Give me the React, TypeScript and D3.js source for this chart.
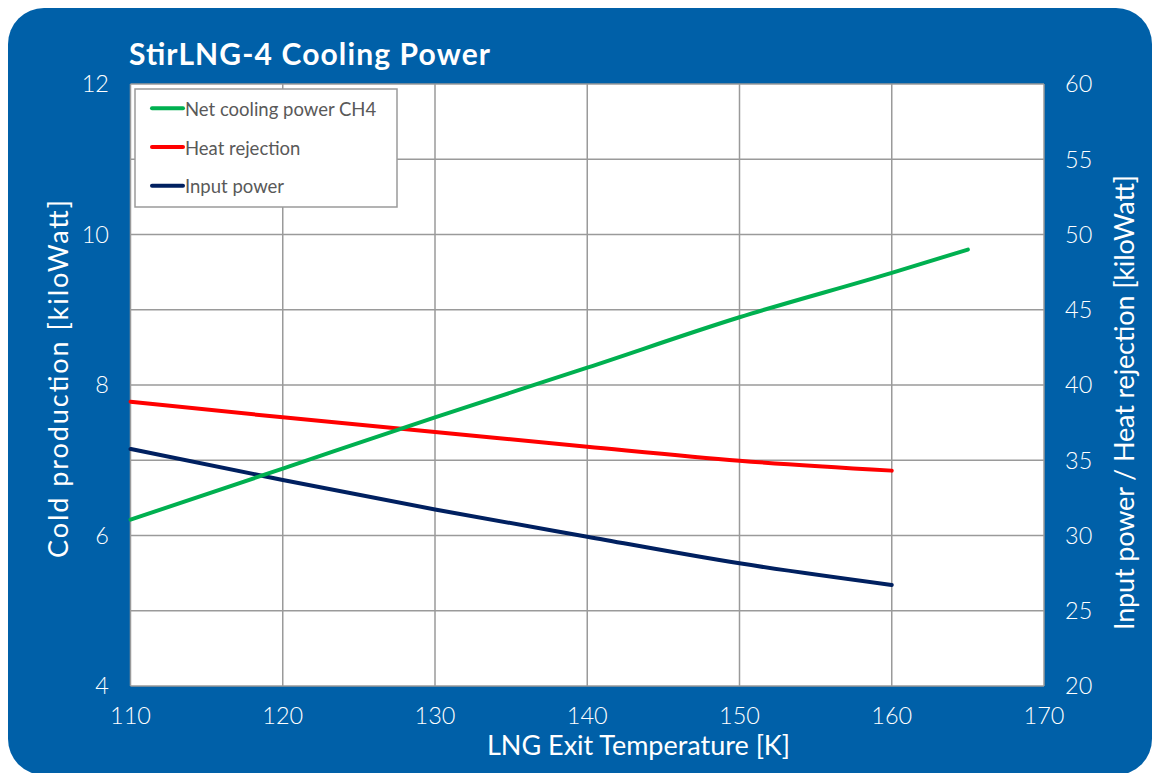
import React from "react";
import * as d3 from "d3";

const temps = [110, 120, 130, 140, 150, 160];
const greenTemps = [110, 120, 130, 140, 150, 160, 165];
const netCooling = [6.21, 6.89, 7.57, 8.23, 8.9, 9.49, 9.8];
const heatRejection = [38.89, 37.85, 36.88, 35.9, 34.97, 34.31];
const inputPower = [35.75, 33.69, 31.73, 29.92, 28.15, 26.71];

const xTicks = [110, 120, 130, 140, 150, 160, 170];
const leftTicks = [4, 6, 8, 10, 12];
const rightTicks = [20, 25, 30, 35, 40, 45, 50, 55, 60];

const legendItems = [
  { label: "Net cooling power CH4", color: "#00B050" },
  { label: "Heat rejection", color: "#FF0000" },
  { label: "Input power", color: "#002060" },
];

const W = 1152;
const H = 773;
const FONT = "Lato, 'Open Sans', sans-serif";

export default function App() {
  const plot = { left: 130.5, right: 1044, top: 84, bottom: 686 };
  const x = d3.scaleLinear().domain([110, 170]).range([plot.left, plot.right]);
  const yL = d3.scaleLinear().domain([4, 12]).range([plot.bottom, plot.top]);
  const yR = d3.scaleLinear().domain([20, 60]).range([plot.bottom, plot.top]);

  const lineL = d3
    .line<[number, number]>()
    .x((d) => x(d[0]))
    .y((d) => yL(d[1]))
    .curve(d3.curveMonotoneX);
  const lineR = d3
    .line<[number, number]>()
    .x((d) => x(d[0]))
    .y((d) => yR(d[1]))
    .curve(d3.curveMonotoneX);

  const green = lineL(greenTemps.map((t, i) => [t, netCooling[i]] as [number, number]));
  const red = lineR(temps.map((t, i) => [t, heatRejection[i]] as [number, number]));
  const navy = lineR(temps.map((t, i) => [t, inputPower[i]] as [number, number]));

  const grid = "#9a9a9a";

  return (
    <svg
      width={W}
      height={H}
      style={{ position: "absolute", left: 0, top: 0, background: "#fff" }}
      fontFamily={FONT}
    >
      <rect x={8} y={8} width={1144} height={767} rx={36} ry={36} fill="#0060A8" />
      <text
        x={129}
        y={65}
        fill="#fff"
        fontSize={30}
        fontWeight={700}
        textLength={361}
        lengthAdjust="spacing"
      >
        StirLNG-4 Cooling Power
      </text>

      <rect
        x={plot.left}
        y={plot.top}
        width={plot.right - plot.left}
        height={plot.bottom - plot.top}
        fill="#fff"
      />
      {rightTicks.map((t) => (
        <line
          key={"h" + t}
          x1={plot.left}
          x2={plot.right}
          y1={yR(t)}
          y2={yR(t)}
          stroke={grid}
          strokeWidth={1.5}
        />
      ))}
      {xTicks.map((t) => (
        <line
          key={"v" + t}
          x1={x(t)}
          x2={x(t)}
          y1={plot.top}
          y2={plot.bottom}
          stroke={grid}
          strokeWidth={1.5}
        />
      ))}

      <path d={red || ""} fill="none" stroke="#FF0000" strokeWidth={4} strokeLinecap="round" />
      <path d={navy || ""} fill="none" stroke="#002060" strokeWidth={4} strokeLinecap="round" />
      <path d={green || ""} fill="none" stroke="#00B050" strokeWidth={4} strokeLinecap="round" />

      {/* legend */}
      <rect x={135} y={89} width={262} height={118} fill="#fff" stroke={grid} strokeWidth={1.5} />
      {legendItems.map((it, i) => {
        const by = 115.7 + i * 38.8;
        return (
          <g key={it.label}>
            <line
              x1={152}
              x2={183}
              y1={by - 7.5}
              y2={by - 7.5}
              stroke={it.color}
              strokeWidth={4}
              strokeLinecap="round"
            />
            <text x={185} y={by} fill="#595959" fontSize={18.5}>
              {it.label}
            </text>
          </g>
        );
      })}

      {/* axes ticks */}
      {leftTicks.map((t) => (
        <text
          key={"l" + t}
          x={109}
          y={yL(t)}
          dy="0.36em"
          textAnchor="end"
          fill="#fff"
          fontSize={23.5}
          fontWeight={300}
        >
          {t}
        </text>
      ))}
      {rightTicks.map((t) => (
        <text
          key={"r" + t}
          x={1065}
          y={yR(t)}
          dy="0.36em"
          textAnchor="start"
          fill="#fff"
          fontSize={23.5}
          fontWeight={300}
        >
          {t}
        </text>
      ))}
      {xTicks.map((t) => (
        <text
          key={"x" + t}
          x={x(t)}
          y={724}
          textAnchor="middle"
          fill="#fff"
          fontSize={23.5}
          fontWeight={300}
        >
          {t}
        </text>
      ))}

      <text
        x={638.5}
        y={755}
        textAnchor="middle"
        fill="#fff"
        fontSize={27}
        textLength={303}
        lengthAdjust="spacing"
      >
        LNG Exit Temperature [K]
      </text>
      <text
        transform={`translate(68, 379) rotate(-90)`}
        textAnchor="middle"
        fill="#fff"
        fontSize={27}
        textLength={358}
        lengthAdjust="spacing"
      >
        Cold production [kiloWatt]
      </text>
      <text
        transform={`translate(1134, 402.5) rotate(-90)`}
        textAnchor="middle"
        fill="#fff"
        fontSize={27}
        textLength={455}
        lengthAdjust="spacing"
      >
        Input power / Heat rejection [kiloWatt]
      </text>
    </svg>
  );
}
